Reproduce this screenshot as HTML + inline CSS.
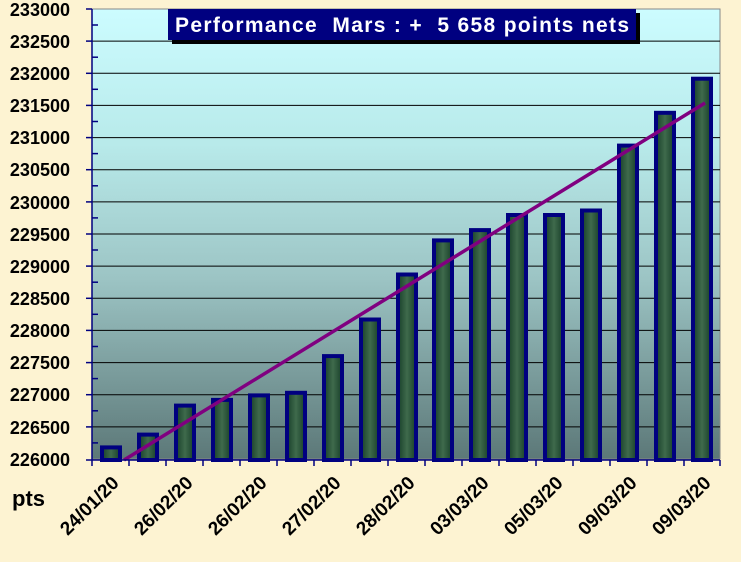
<!DOCTYPE html><html><head><style>body{margin:0;background:#fdf3d0;}svg{display:block}</style></head><body>
<svg width="741" height="562" xmlns="http://www.w3.org/2000/svg" font-family="Liberation Sans, Arial, sans-serif" font-weight="bold">
<defs>
<linearGradient id="bg" x1="0" y1="0" x2="0" y2="1"><stop offset="0" stop-color="#ccfcff"/><stop offset="0.3" stop-color="#b8eaea"/><stop offset="0.6" stop-color="#9cc4c4"/><stop offset="1" stop-color="#5c7878"/></linearGradient>
<linearGradient id="bar" x1="0" y1="0" x2="1" y2="0"><stop offset="0" stop-color="#18402a"/><stop offset="0.5" stop-color="#3f6a4c"/><stop offset="1" stop-color="#18402a"/></linearGradient>
</defs>
<rect width="741" height="562" fill="#fdf3d2"/>
<rect x="92" y="9" width="628" height="450" fill="url(#bg)" stroke="#888" stroke-width="1"/>
<g stroke="#000" stroke-width="1">
<line x1="92" x2="720" y1="41.1" y2="41.1"/><line x1="92" x2="720" y1="73.3" y2="73.3"/><line x1="92" x2="720" y1="105.4" y2="105.4"/><line x1="92" x2="720" y1="137.6" y2="137.6"/><line x1="92" x2="720" y1="169.7" y2="169.7"/><line x1="92" x2="720" y1="201.9" y2="201.9"/><line x1="92" x2="720" y1="234" y2="234"/><line x1="92" x2="720" y1="266.1" y2="266.1"/><line x1="92" x2="720" y1="298.3" y2="298.3"/><line x1="92" x2="720" y1="330.4" y2="330.4"/><line x1="92" x2="720" y1="362.6" y2="362.6"/><line x1="92" x2="720" y1="394.7" y2="394.7"/><line x1="92" x2="720" y1="426.9" y2="426.9"/>
</g>
<g id="bars" fill="url(#bar)" stroke="#000080" stroke-width="4">
<rect x="102" y="447.4" width="18" height="12.6"/>
<rect x="139" y="434.6" width="18" height="25.4"/>
<rect x="176" y="405.6" width="18" height="54.4"/>
<rect x="213" y="399.9" width="18" height="60.1"/>
<rect x="250" y="395.4" width="18" height="64.6"/>
<rect x="287" y="392.8" width="18" height="67.2"/>
<rect x="324" y="356.1" width="18" height="103.9"/>
<rect x="361" y="319.5" width="18" height="140.5"/>
<rect x="398" y="274.5" width="18" height="185.5"/>
<rect x="434" y="240.4" width="18" height="219.6"/>
<rect x="471" y="230.1" width="18" height="229.9"/>
<rect x="508" y="215.0" width="18" height="245"/>
<rect x="545" y="215.0" width="18" height="245"/>
<rect x="582" y="210.5" width="18" height="249.5"/>
<rect x="619" y="145.6" width="18" height="314.4"/>
<rect x="656" y="112.8" width="18" height="347.2"/>
<rect x="693" y="78.7" width="18" height="381.3"/>
</g>
<line x1="124" y1="460" x2="705" y2="103" stroke="#800080" stroke-width="3.5"/>
<g stroke="#000080" stroke-width="1.5">
<line x1="92" y1="9" x2="92" y2="460"/><line x1="86" x2="720" y1="460" y2="460"/>
<line x1="86" x2="92" y1="9" y2="9"/><line x1="86" x2="92" y1="41.1" y2="41.1"/><line x1="86" x2="92" y1="73.3" y2="73.3"/><line x1="86" x2="92" y1="105.4" y2="105.4"/><line x1="86" x2="92" y1="137.6" y2="137.6"/><line x1="86" x2="92" y1="169.7" y2="169.7"/><line x1="86" x2="92" y1="201.9" y2="201.9"/><line x1="86" x2="92" y1="234" y2="234"/><line x1="86" x2="92" y1="266.1" y2="266.1"/><line x1="86" x2="92" y1="298.3" y2="298.3"/><line x1="86" x2="92" y1="330.4" y2="330.4"/><line x1="86" x2="92" y1="362.6" y2="362.6"/><line x1="86" x2="92" y1="394.7" y2="394.7"/><line x1="86" x2="92" y1="426.9" y2="426.9"/>
<g>
<line x1="92" x2="98" y1="25" y2="25"/><line x1="92" x2="98" y1="57.2" y2="57.2"/><line x1="92" x2="98" y1="89.3" y2="89.3"/><line x1="92" x2="98" y1="121.5" y2="121.5"/><line x1="92" x2="98" y1="153.6" y2="153.6"/><line x1="92" x2="98" y1="185.8" y2="185.8"/><line x1="92" x2="98" y1="217.9" y2="217.9"/><line x1="92" x2="98" y1="250" y2="250"/><line x1="92" x2="98" y1="282.2" y2="282.2"/><line x1="92" x2="98" y1="314.3" y2="314.3"/><line x1="92" x2="98" y1="346.5" y2="346.5"/><line x1="92" x2="98" y1="378.6" y2="378.6"/><line x1="92" x2="98" y1="410.8" y2="410.8"/><line x1="92" x2="98" y1="442.9" y2="442.9"/>
</g>
<line x1="92" x2="92" y1="460" y2="466"/><line x1="129" x2="129" y1="460" y2="466"/><line x1="166" x2="166" y1="460" y2="466"/><line x1="203" x2="203" y1="460" y2="466"/><line x1="240" x2="240" y1="460" y2="466"/><line x1="277" x2="277" y1="460" y2="466"/><line x1="314" x2="314" y1="460" y2="466"/><line x1="351" x2="351" y1="460" y2="466"/><line x1="388" x2="388" y1="460" y2="466"/><line x1="425" x2="425" y1="460" y2="466"/><line x1="462" x2="462" y1="460" y2="466"/><line x1="499" x2="499" y1="460" y2="466"/><line x1="536" x2="536" y1="460" y2="466"/><line x1="573" x2="573" y1="460" y2="466"/><line x1="610" x2="610" y1="460" y2="466"/><line x1="647" x2="647" y1="460" y2="466"/><line x1="684" x2="684" y1="460" y2="466"/><line x1="720" x2="720" y1="460" y2="466"/>
</g>
<g font-size="18" fill="#000" text-anchor="end">
<text x="70" y="16">233000</text><text x="70" y="48">232500</text><text x="70" y="80">232000</text><text x="70" y="112">231500</text><text x="70" y="144">231000</text><text x="70" y="176">230500</text><text x="70" y="209">230000</text><text x="70" y="241">229500</text><text x="70" y="273">229000</text><text x="70" y="305">228500</text><text x="70" y="337">228000</text><text x="70" y="369">227500</text><text x="70" y="401">227000</text><text x="70" y="434">226500</text><text x="70" y="466">226000</text>
</g>
<text x="12" y="506" font-size="22" fill="#000">pts</text>
<g font-size="19" fill="#000" text-anchor="end">
<text transform="translate(120,484) rotate(-45)">24/01/20</text>
<text transform="translate(194,484) rotate(-45)">26/02/20</text>
<text transform="translate(268,484) rotate(-45)">26/02/20</text>
<text transform="translate(342,484) rotate(-45)">27/02/20</text>
<text transform="translate(416,484) rotate(-45)">28/02/20</text>
<text transform="translate(490,484) rotate(-45)">03/03/20</text>
<text transform="translate(564,484) rotate(-45)">05/03/20</text>
<text transform="translate(638,484) rotate(-45)">09/03/20</text>
<text transform="translate(712,484) rotate(-45)">09/03/20</text>
</g>
<rect x="172" y="13" width="468" height="31" fill="#000"/>
<rect x="168" y="9" width="468" height="31" fill="#000080"/>
<text x="402" y="32" font-size="21" fill="#fff" text-anchor="middle" textLength="454" lengthAdjust="spacing" xml:space="preserve">Performance  Mars : +  5 658 points nets</text>
</svg>
</body></html>
